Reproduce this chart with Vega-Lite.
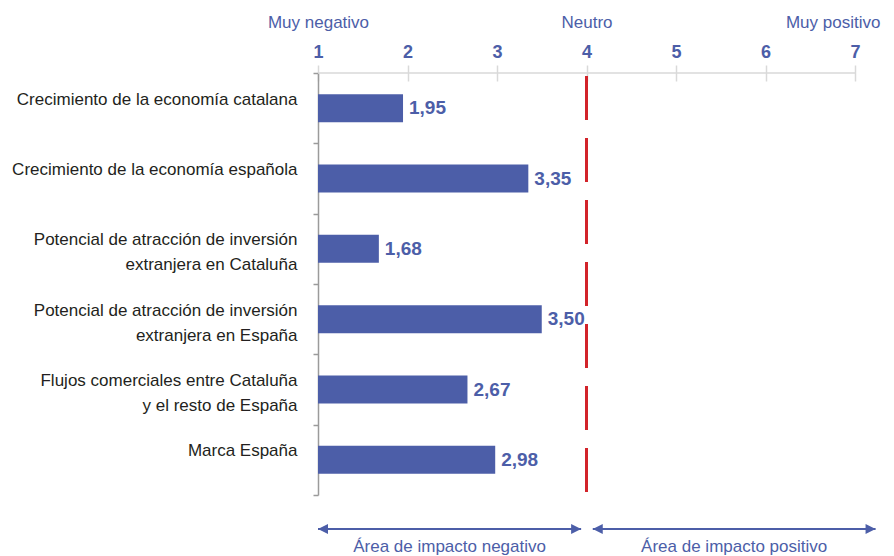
{
  "$schema": "https://vega.github.io/schema/vega-lite/v6.json",
  "padding": {"left": 11, "top": 13, "right": 5, "bottom": 0},
  "config": {
    "view": {"stroke": null},
    "font": "Liberation Sans"
  },
  "spacing": 22,
  "vconcat": [
    {
      "width": 537,
      "height": 422,
      "data": {
        "values": [
          {"factor": "Crecimiento de la economía catalana|", "valor": 1.95, "etiqueta": "1,95"},
          {"factor": "Crecimiento de la economía española|", "valor": 3.35, "etiqueta": "3,35"},
          {"factor": "Potencial de atracción de inversión|extranjera en Cataluña", "valor": 1.68, "etiqueta": "1,68"},
          {"factor": "Potencial de atracción de inversión|extranjera en España", "valor": 3.50, "etiqueta": "3,50"},
          {"factor": "Flujos comerciales entre Cataluña|y el resto de España", "valor": 2.67, "etiqueta": "2,67"},
          {"factor": "Marca España|", "valor": 2.98, "etiqueta": "2,98"}
        ]
      },
      "layer": [
        {
          "mark": {"type": "bar", "color": "#4c5ea8", "size": 28},
          "encoding": {
            "y": {
              "field": "factor",
              "type": "nominal",
              "sort": null,
              "title": null,
              "scale": {"paddingInner": 0, "paddingOuter": 0},
              "axis": {
                "domainColor": "#9b9b9b",
                "domainWidth": 1.5,
                "tickColor": "#9b9b9b",
                "tickWidth": 1.5,
                "tickSize": 5,
                "tickBand": "extent",
                "labelFontSize": 17,
                "labelColor": "#231f20",
                "labelPadding": 16,
                "labelLimit": 400,
                "labelLineHeight": 25,
                "labelOffset": -9,
                "labelExpr": "split(datum.label, '|')"
              }
            },
            "x": {
              "field": "valor",
              "type": "quantitative",
              "scale": {"domain": [1, 7], "nice": false, "zero": false},
              "axis": {
                "orient": "top",
                "title": null,
                "values": [1, 2, 3, 4, 5, 6, 7],
                "format": "d",
                "offset": -8,
                "tickSize": 16,
                "tickColor": "#d9d9d9",
                "tickWidth": 1.5,
                "domain": false,
                "grid": false,
                "zindex": 0,
                "labelFontSize": 18,
                "labelFontWeight": "bold",
                "labelColor": "#4c5ea8",
                "labelPadding": 4,
                "labelFlush": false,
                "labelOverlap": false
              }
            },
            "x2": {"datum": 1}
          }
        },
        {
          "mark": {"type": "text", "align": "left", "baseline": "middle", "dx": 6, "fontSize": 19, "fontWeight": "bold", "color": "#4c5ea8"},
          "encoding": {
            "y": {"field": "factor", "type": "nominal", "sort": null},
            "x": {"field": "valor", "type": "quantitative", "axis": null},
            "text": {"field": "etiqueta", "type": "nominal"}
          }
        },
        {
          "data": {"values": [{"factor": "Crecimiento de la economía catalana|"}]},
          "mark": {"type": "rule", "color": "#d9d9d9", "strokeWidth": 1.5},
          "encoding": {
            "x": {"datum": 1, "type": "quantitative", "axis": null},
            "x2": {"datum": 7},
            "y": {"field": "factor", "type": "nominal", "sort": null, "bandPosition": 0}
          }
        },
        {
          "data": {"values": [{"linea": "neutro"}]},
          "mark": {"type": "rule", "color": "#d2232a", "strokeWidth": 3, "strokeDash": [44, 18], "strokeDashOffset": 59},
          "encoding": {
            "x": {
              "datum": 4,
              "type": "quantitative",
              "axis": {
                "orient": "top",
                "title": null,
                "values": [1, 4, 6.75],
                "labelExpr": "datum.value == 1 ? 'Muy negativo' : datum.value == 4 ? 'Neutro' : 'Muy positivo'",
                "ticks": false,
                "domain": false,
                "grid": false,
                "offset": 42,
                "labelPadding": 0,
                "labelFontSize": 17,
                "labelColor": "#4c5ea8",
                "labelAlign": "center",
                "labelFlush": false,
                "labelOverlap": false
              }
            }
          }
        }
      ],
      "resolve": {"axis": {"x": "independent"}}
    },
    {
      "width": 537,
      "height": 20,
      "data": {
        "values": [
          {"area": "Área de impacto negativo", "inicio": 1, "fin": 3.94},
          {"area": "Área de impacto positivo", "inicio": 4.07, "fin": 7.23}
        ]
      },
      "layer": [
        {
          "mark": {"type": "rule", "color": "#4c5ea8", "strokeWidth": 2},
          "encoding": {
            "x": {"field": "inicio", "type": "quantitative", "scale": {"domain": [1, 7], "nice": false, "zero": false}, "axis": null},
            "x2": {"field": "fin"}
          }
        },
        {
          "mark": {"type": "point", "shape": "M0,0L2,-1L2,1Z", "filled": true, "size": 100, "color": "#4c5ea8", "opacity": 1},
          "encoding": {"x": {"field": "inicio", "type": "quantitative"}}
        },
        {
          "mark": {"type": "point", "shape": "M0,0L-2,-1L-2,1Z", "filled": true, "size": 100, "color": "#4c5ea8", "opacity": 1},
          "encoding": {"x": {"field": "fin", "type": "quantitative"}}
        },
        {
          "transform": [
            {"fold": ["inicio", "fin"], "as": ["extremo", "posicion"]},
            {"aggregate": [{"op": "mean", "field": "posicion", "as": "centro"}], "groupby": ["area"]}
          ],
          "mark": {"type": "text", "fontSize": 17, "color": "#4c5ea8", "baseline": "alphabetic", "align": "center", "dy": 23},
          "encoding": {"x": {"field": "centro", "type": "quantitative"}, "text": {"field": "area", "type": "nominal"}}
        }
      ]
    }
  ]
}
